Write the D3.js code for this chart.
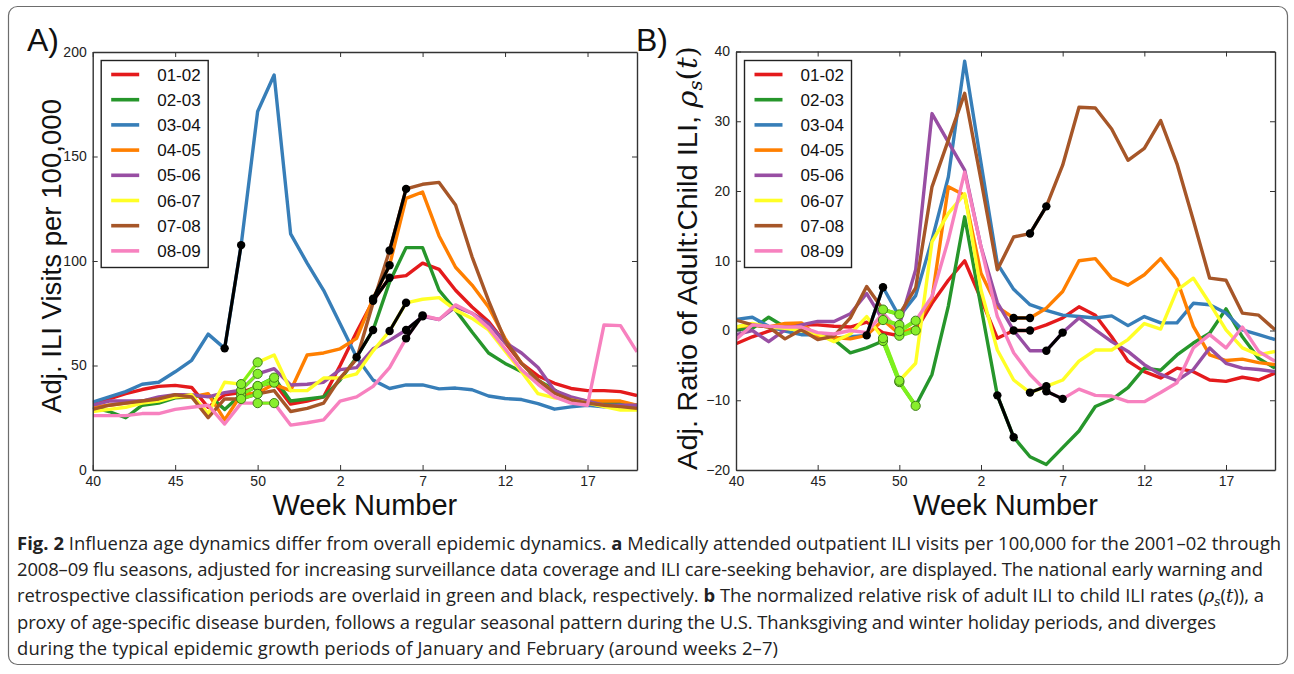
<!DOCTYPE html>
<html><head><meta charset="utf-8">
<script src="https://cdn.jsdelivr.net/npm/d3@7"></script>
<style>
body{margin:0;background:#fff;}
svg{display:block;font-family:"Liberation Sans",Arial,sans-serif;}
</style>
</head><body>
<svg id="fig" width="1294" height="674"></svg>
<script>
// ---------- data ----------
const weekNumbers = [40,41,42,43,44,45,46,47,48,49,50,51,52,53,1,2,3,4,5,6,7,8,9,10,11,12,13,14,15,16,17,18,19,20];
const tickPositions = [0,5,10,15,20,25,30];
const tickLabels = ["40","45","50","2","7","12","17"];
const seasons = ["01-02","02-03","03-04","04-05","05-06","06-07","07-08","08-09"];
const seasonColors = ["#e41a1c","#26962b","#377eb8","#ff7f00","#984ea3","#ffff26","#a65628","#f781bf"];

// Panel A: adjusted ILI visits per 100,000
const iliA_0102 = [32,34,36.5,38.5,40,40.5,39.5,30,36,37,40,41.8,31.5,33,35,50,66,81,92,93,99,96,86,78,71,61,51,45,41.5,39,38,38,37.5,35.6];
const iliA_0203 = [30,28,25,31,32,34.5,35,36,29,36.1,40.2,44.2,33,34,35,43,54,67,90,106.4,106.4,86,76.5,66,56,51,47,43,38.3,33.5,32.7,32,32,31];
const iliA_0304 = [32.5,35,37.5,41,42,47,52.5,65,58.2,107.6,171.5,189,113,99,86,70,54,43,39,40.7,40.7,38.8,39.2,38.4,35.4,34.2,33.7,31.8,29.1,30.2,31,30.2,31,30];
const iliA_0405 = [30,31,32,33,34,35,35,36.5,24,36,37,41,38,55,56,58,63,82,98,130,133,112,97,88.5,78,63,51,43,37,34,33,33,33,31];
const iliA_0506 = [31,33,33,33,35,36,36,35,37,38.2,46,48.5,40.7,41,42,48,49,58,62,67,73.5,72,78,75,70,61,56,49,38,35,33,31,31,31];
const iliA_0607 = [28,29,30,32,33,35,36,27,42,41.1,51.5,55,38,38,44,44,46,57,66.5,80,81.7,82.5,76.5,72.5,67,57,47,36.5,34.5,33.5,32,30.3,28.7,28.7];
const iliA_0708 = [29,31,32,33,34,36,35,25,34,34,36.4,38,28,29.5,32,44,53,80,105,134.5,136.7,137.6,126.8,102,81,62,51,43,36.7,33.5,32,31,30.3,29.5];
const iliA_0809 = [26,26,26,27,27,29,30,31,22,32,32,32,21.5,22.6,24,33,35,40,49,63,74,72,79,75,68,58,48,41,35,32,31,69.4,69.1,56.5];

// Panel B: adjusted ratio of adult:child ILI
const rhoB_0102 = [-1.9,-0.9,-0.1,0.6,0.8,0.8,0.6,0.5,1.2,-0.3,-0.75,0,3.9,7.2,10,4.5,-1.1,0,0,0.8,1.8,3.4,2.2,-0.9,-4.4,-5.9,-6.8,-5.4,-5.9,-7.1,-7.3,-6.7,-7.1,-6.1];
const rhoB_0203 = [0.1,0.3,1.9,0.5,0,-0.8,-1.3,-3.2,-2.5,-1.5,-7.4,-10.8,-6.3,3.5,16.3,3.4,-9.3,-15.3,-18.1,-19.2,-16.8,-14.4,-10.9,-9.9,-8.2,-5.4,-5.7,-3.5,-1.8,-0.4,3.1,-0.9,-4,-5.4];
const rhoB_0304 = [1.6,1.9,0.6,-0.1,-0.6,-0.6,-1.1,-0.9,-0.7,6.2,2.0,5,13,22,38.6,24,9.6,5.9,3.7,2.9,2.2,2.0,1.8,2.1,0.7,2.0,1.1,1.1,3.9,3.7,2.5,0.1,-0.6,-1.3];
const rhoB_0405 = [0.5,0.8,0.5,1.0,1.1,-0.9,-1.0,-1.2,-0.7,1.5,-0.5,0.5,4.6,20.6,19.4,8.2,3.4,1.8,1.8,3.2,5.6,10.0,10.3,7.5,6.5,8.0,10.3,7.3,0.6,-3.5,-4.3,-4.1,-4.6,-4.9];
const rhoB_0506 = [-0.6,0,-1.6,0.1,0.8,1.3,1.3,2.4,5.3,1.5,0.8,8.7,31.1,27,23,12,4,0,-2.9,-2.9,-0.3,1.8,0.1,-1.6,-3,-4.9,-6.3,-7.2,-5.6,-2.5,-4.7,-5.4,-5.6,-5.9];
const rhoB_0607 = [0.5,1.0,0.5,0.3,0,-0.5,-1.6,-0.5,2.0,-1.1,-7.2,-4.7,12.7,16.8,19.6,5.8,-2.8,-7.1,-8.9,-8.0,-7.1,-4.4,-2.8,-2.8,-1.3,1.0,0.2,5.8,7.5,3.9,0.1,-2.5,-3.5,-3.0];
const rhoB_0708 = [1.5,0.8,0.5,-1.2,0.1,-1.3,-0.8,1.8,6.3,3.0,2.3,6.1,20.6,27.3,34,21.6,8.7,13.4,13.9,17.8,23.7,32,31.9,28.9,24.4,26.1,30.1,23.9,15.8,7.5,7.2,2.5,2.2,0.1];
const rhoB_0809 = [-1.3,0.8,0.6,0.5,0.5,-0.3,-0.5,0,-0.3,2.5,-0.1,1.4,4.9,13,22.7,12,2.0,-3.2,-6.3,-8.7,-9.8,-8.4,-9.3,-9.4,-10.2,-10.2,-8.9,-7.5,-2.5,-0.6,-2.5,0.5,-3.0,-4.4];

// early warning (green) and retrospective (black) periods, as week indices per season
const earlyStart = [10, 9, null, null, 9, 9, 9, 10];
const earlyEnd   = [11, 11, null, null, 10, 10, 10, 11];
const retroStart = [17, 16, 8, 17, 19, 18, 18, 19];
const retroEnd   = [18, 17, 9, 18, 20, 19, 19, 20];

const yTicksA = [0,50,100,150,200];
const yTicksB = [-20,-10,0,10,20,30,40];

// ---------- drawing ----------
const svg = d3.select("#fig");
svg.append("rect").attr("x",8.5).attr("y",6.5).attr("width",1279).attr("height",658)
  .attr("rx",9).attr("fill","none").attr("stroke","#6d6d6d").attr("stroke-width",1.2);

function drawPanel(cfg){
  const g = svg.append("g");
  const x = d3.scaleLinear().domain([0,33]).range([cfg.left, cfg.right]);
  const y = d3.scaleLinear().domain(cfg.yDomain).range([470, cfg.top]);
  const clipId = "clip"+cfg.id;
  g.append("clipPath").attr("id",clipId).append("rect")
    .attr("x",cfg.left).attr("y",cfg.top).attr("width",cfg.right-cfg.left).attr("height",470-cfg.top);
  const plot = g.append("g").attr("clip-path","url(#"+clipId+")");
  const line = d3.line().x((d,i)=>x(i)).y(d=>y(d));
  cfg.series.forEach((vals,s)=>{
    plot.append("path").attr("d",line(vals)).attr("fill","none")
      .attr("stroke",seasonColors[s]).attr("stroke-width",3.4).attr("stroke-linejoin","round");
  });
  // early warning overlays
  const segLine = d3.line().x(d=>x(d[0])).y(d=>y(d[1]));
  cfg.series.forEach((vals,s)=>{
    if(earlyStart[s]===null) return;
    const pts = d3.range(earlyStart[s], earlyEnd[s]+1).map(i=>[i, vals[i]]);
    plot.append("path").attr("d",segLine(pts)).attr("fill","none")
      .attr("stroke","#7cf01e").attr("stroke-width",cfg.limeWidth);
  });
  cfg.series.forEach((vals,s)=>{
    if(earlyStart[s]===null) return;
    const pts = d3.range(earlyStart[s], earlyEnd[s]+1).map(i=>[i, vals[i]]);
    plot.selectAll(null).data(pts).enter().append("circle")
      .attr("cx",d=>x(d[0])).attr("cy",d=>y(d[1])).attr("r",4.6)
      .attr("fill","#88ee2c").attr("stroke","#3f7f18").attr("stroke-width",1);
  });
  // retrospective overlays
  cfg.series.forEach((vals,s)=>{
    const pts = d3.range(retroStart[s], retroEnd[s]+1).map(i=>[i, vals[i]]);
    plot.append("path").attr("d",segLine(pts)).attr("fill","none")
      .attr("stroke","#000").attr("stroke-width",3.2);
    plot.selectAll(null).data(pts).enter().append("circle")
      .attr("cx",d=>x(d[0])).attr("cy",d=>y(d[1])).attr("r",4.2).attr("fill","#000");
  });

  // axes
  const fmt = d=> d<0 ? "\u2212"+Math.abs(d) : String(d);
  const axStyle = sel=>{
    sel.select(".domain").attr("stroke","#333").attr("stroke-width",1.4);
    sel.selectAll(".tick line").attr("stroke","#333").attr("stroke-width",1);
    sel.selectAll(".tick text").attr("fill","#222").style("font-size","14px")
      .style("font-family","'Liberation Sans',Arial,sans-serif");
  };
  g.append("g").attr("transform",`translate(0,470)`)
    .call(d3.axisBottom(x).tickValues(tickPositions).tickFormat((d,i)=>tickLabels[i]).tickSizeInner(-5).tickSizeOuter(0).tickPadding(6))
    .call(axStyle);
  g.append("g").attr("transform",`translate(0,${cfg.top})`)
    .call(d3.axisTop(x).tickValues(tickPositions).tickFormat("").tickSizeInner(-5).tickSizeOuter(0))
    .call(axStyle);
  g.append("g").attr("transform",`translate(${cfg.left},0)`)
    .call(d3.axisLeft(y).tickValues(cfg.yTicks).tickFormat(fmt).tickSizeInner(-5).tickSizeOuter(0).tickPadding(6))
    .call(axStyle);
  g.append("g").attr("transform",`translate(${cfg.right},0)`)
    .call(d3.axisRight(y).tickValues(cfg.yTicks).tickFormat("").tickSizeInner(-5).tickSizeOuter(0))
    .call(axStyle);

  // legend
  const lg = g.append("g");
  lg.append("rect").attr("x",cfg.left+8.5).attr("y",60.5).attr("width",107).attr("height",207)
    .attr("fill","#fff").attr("stroke","#222").attr("stroke-width",1.4);
  seasons.forEach((name,s)=>{
    const yy = 74.5 + s*25.2;
    lg.append("line").attr("x1",cfg.left+18.5).attr("x2",cfg.left+46.5).attr("y1",yy).attr("y2",yy)
      .attr("stroke",seasonColors[s]).attr("stroke-width",3.6);
    lg.append("text").attr("x",cfg.left+64.5).attr("y",yy+6).text(name)
      .style("font-size","17px").attr("fill","#111");
  });

  // x title
  g.append("text").attr("x",(cfg.left+cfg.right)/2).attr("y",515).attr("text-anchor","middle")
    .style("font-size","29px").attr("fill","#111").text("Week Number");
  // panel label
  g.append("text").attr("x",cfg.labelX).attr("y",51).style("font-size","32px").attr("fill","#111").text(cfg.label);
  return g;
}

const gA = drawPanel({id:"A", left:92.7, right:637, top:52, yDomain:[0,200], yTicks:yTicksA,
  series:[iliA_0102,iliA_0203,iliA_0304,iliA_0405,iliA_0506,iliA_0607,iliA_0708,iliA_0809],
  label:"A)", labelX:27, limeWidth:3});
const gB = drawPanel({id:"B", left:736, right:1275, top:51.5, yDomain:[-20,40], yTicks:yTicksB,
  series:[rhoB_0102,rhoB_0203,rhoB_0304,rhoB_0405,rhoB_0506,rhoB_0607,rhoB_0708,rhoB_0809],
  label:"B)", labelX:636, limeWidth:4});

// y titles
svg.append("text").attr("transform","translate(61,256) rotate(-90)").attr("text-anchor","middle")
  .style("font-size","28px").attr("fill","#111")
  .attr("textLength",314).attr("lengthAdjust","spacingAndGlyphs")
  .text("Adj. ILI Visits per 100,000");
const tB = svg.append("text").attr("transform","translate(697,258) rotate(-90)").attr("text-anchor","middle")
  .style("font-size","28px").attr("fill","#111")
  .attr("textLength",424).attr("lengthAdjust","spacingAndGlyphs");
tB.append("tspan").text("Adj. Ratio of Adult:Child ILI, ");
tB.append("tspan").style("font-family","'DejaVu Serif',serif").style("font-style","italic").text("\u03C1");
tB.append("tspan").style("font-family","'DejaVu Serif',serif").style("font-style","italic").style("font-size","19px").attr("dy",5).text("s");
tB.append("tspan").style("font-family","'DejaVu Serif',serif").attr("dy",-5).text("(");
tB.append("tspan").style("font-family","'DejaVu Serif',serif").style("font-style","italic").text("t");
tB.append("tspan").style("font-family","'DejaVu Serif',serif").text(")");

// caption
const captionLines = [
  [["b","Fig. 2"],["n"," Influenza age dynamics differ from overall epidemic dynamics. "],["b","a"],["n"," Medically attended outpatient ILI visits per 100,000 for the 2001\u201302 through"]],
  [["n","2008\u201309 flu seasons, adjusted for increasing surveillance data coverage and ILI care-seeking behavior, are displayed. The national early warning and"]],
  [["n","retrospective classification periods are overlaid in green and black, respectively. "],["b","b"],["n"," The normalized relative risk of adult ILI to child ILI rates ("],["i","\u03C1"],["sub","s"],["n","("],["i","t"],["n",")), a"]],
  [["n","proxy of age-specific disease burden, follows a regular seasonal pattern during the U.S. Thanksgiving and winter holiday periods, and diverges"]],
  [["n","during the typical epidemic growth periods of January and February (around weeks 2\u20137)"]]
];
const captionWidths = [1264, 1246, 1247, 1199, 761];
const cap = svg.append("g").style("font-family","'Open Sans',sans-serif").style("font-size","18.4px").attr("fill","#222");
captionLines.forEach((parts,li)=>{
  const t = cap.append("text").attr("x",17).attr("y",550 + li*26.2);
  if(captionWidths[li]) t.attr("textLength",captionWidths[li]).attr("lengthAdjust","spacing");
  let shifted = false;
  parts.forEach(([k,txt])=>{
    const sp = t.append("tspan").text(txt);
    if(k==="b") sp.style("font-weight","700");
    if(k==="i") sp.style("font-family","'DejaVu Serif',serif").style("font-style","italic");
    if(k==="sub"){ sp.style("font-family","'DejaVu Serif',serif").style("font-style","italic").style("font-size","12px").attr("dy",4); shifted=true; }
    else if(shifted){ sp.attr("dy",-4); shifted=false; }
  });
});
</script>
</body></html>
